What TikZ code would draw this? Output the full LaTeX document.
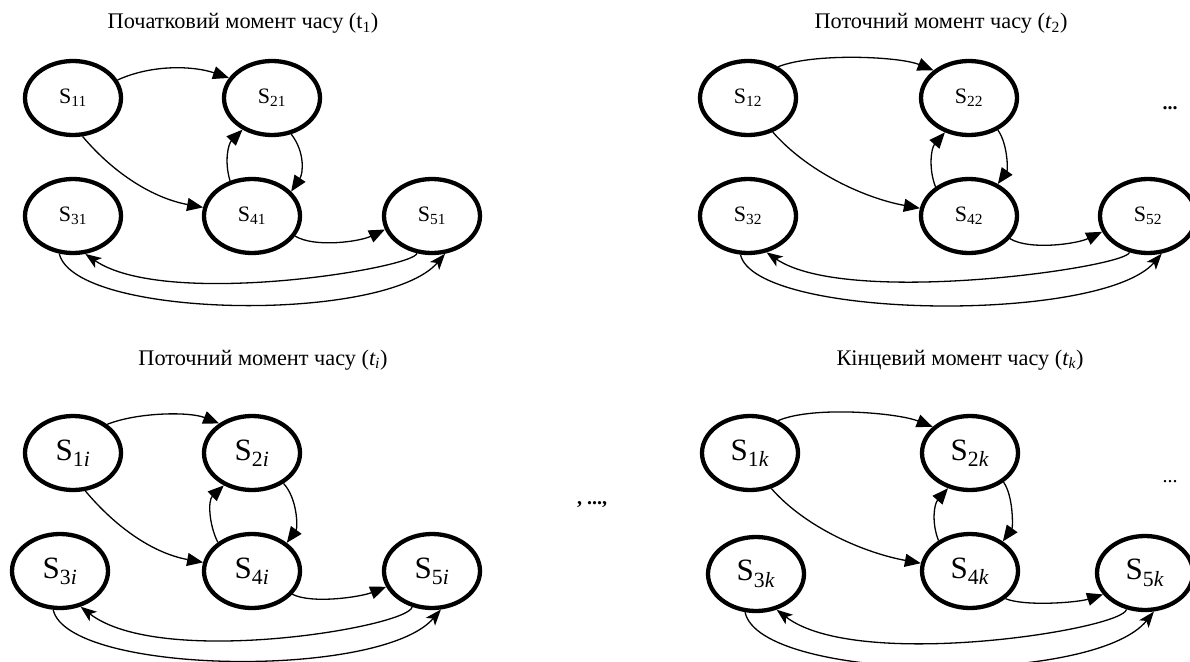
\documentclass[tikz,border=0pt]{standalone}
\usepackage{fontspec}
\setmainfont{Liberation Serif}
\usetikzlibrary{shapes.geometric,arrows.meta}
\begin{document}
\begin{tikzpicture}[x=1pt,y=1pt,
  state/.style={ellipse, draw, line width=4.3pt, minimum width=96pt, minimum height=74pt,
    inner sep=0pt, font=\fontsize{22}{26}\selectfont},
  bigstate/.style={state, font=\fontsize{31}{36}\selectfont},
  link/.style={line width=1.3pt, -{Triangle[length=16pt,width=13pt]}},
  backlink/.style={line width=1.3pt, -{Stealth[length=16pt,width=12pt,inset=4pt]}},
  caption/.style={font=\fontsize{22.3}{26}\selectfont, anchor=base},
  dots/.style={font=\fontsize{20}{24}\selectfont, anchor=base}]
\useasboundingbox (0,0) rectangle (1190,-661);

% ---- initial moment t1
\node[caption] (t1) at (243,-29) {Початковий момент часу (t\textsubscript{1})};
\node[state] (a1) at (73,-98)  {S\textsubscript{11}};
\node[state] (a2) at (272,-98) {S\textsubscript{21}};
\node[state] (a3) at (73,-216) {S\textsubscript{31}};
\node[state] (a4) at (252,-216) {S\textsubscript{41}};
\node[state] (a5) at (432,-216) {S\textsubscript{51}};
\draw[link] (a1.22) .. controls +(35,16) and +(-35,12) .. (a2.155);
\draw[link] (a1.-76) .. controls +(32,-38) and +(-49,9) .. (a4.170);
\draw[link] (a4.122) .. controls +(-6,20) and +(-14,-14) .. (a2.-133);
\draw[link] (a2.-62) .. controls +(14,-18) and +(12,18) .. (a4.32);
\draw[link] (a4.-25) .. controls +(20,-12) and +(-25,-12) .. (a5.-164);
\draw[backlink] (a5.-112) .. controls +(-3,-15) and +(80,-55) .. (a3.-72);
\draw[backlink] (a3.-110) .. controls +(15,-65) and +(-60,-70) .. (a5.-71);

% ---- current moment t2
\node[caption] (t2) at (941,-29) {Поточний момент часу (\textit{t}\textsubscript{2})};
\node[state] (b1) at (748,-98)  {S\textsubscript{12}};
\node[state] (b2) at (969,-98)  {S\textsubscript{22}};
\node[state] (b3) at (748,-216) {S\textsubscript{32}};
\node[state] (b4) at (969,-216) {S\textsubscript{42}};
\node[state] (b5) at (1148,-216) {S\textsubscript{52}};
\node[dots, font=\bfseries\fontsize{20}{24}\selectfont] (dotsA) at (1170,-109) {...};
\draw[link] (b1.46) .. controls +(35,14) and +(-35,14) .. (b2.142);
\draw[link] (b1.-54) .. controls +(35,-40) and +(-55,10) .. (b4.171);
\draw[link] (b4.139) .. controls +(-7,18) and +(-14,-16) .. (b2.-125);
\draw[link] (b2.-48) .. controls +(10,-14) and +(10,14) .. (b4.48);
\draw[link] (b4.-29) .. controls +(20,-12) and +(-25,-12) .. (b5.-161);
\draw[backlink] (b5.-117) .. controls +(-3,-15) and +(80,-55) .. (b3.-63);
\draw[backlink] (b3.-101) .. controls +(15,-65) and +(-60,-70) .. (b5.-70);

% ---- separator between the rows
\node[dots, font=\bfseries\fontsize{20}{24}\selectfont] (sep) at (592,-504) {, ...,};

% ---- current moment ti
\node[caption] (t3) at (263,-365) {Поточний момент часу (\textit{t\textsubscript{i}})};
\node[bigstate] (c1) at (73,-453)  {S\textsubscript{1\textit{i}}};
\node[bigstate] (c2) at (252,-453) {S\textsubscript{2\textit{i}}};
\node[bigstate] (c3) at (60,-571)  {S\textsubscript{3\textit{i}}};
\node[bigstate] (c4) at (252,-571) {S\textsubscript{4\textit{i}}};
\node[bigstate] (c5) at (432,-571) {S\textsubscript{5\textit{i}}};
\draw[link] (c1.40) .. controls +(30,12) and +(-30,12) .. (c2.138);
\draw[link] (c1.-72) .. controls +(32,-38) and +(-49,9) .. (c4.170);
\draw[link] (c4.140) .. controls +(-9,18) and +(-16,-15) .. (c2.-131);
\draw[link] (c2.-44) .. controls +(14,-15) and +(11,15) .. (c4.39);
\draw[link] (c4.-30) .. controls +(20,-10) and +(-25,-10) .. (c5.-161);
\draw[backlink] (c5.-119) .. controls +(-3,-20) and +(80,-62) .. (c3.-60);
\draw[backlink] (c3.-100) .. controls +(15,-65) and +(-60,-70) .. (c5.-77);

% ---- final moment tk
\node[caption] (t4) at (960,-365) {Кінцевий момент часу (\textit{t\textsubscript{k}})};
\node[bigstate] (k1) at (750,-453)  {S\textsubscript{1\textit{k}}};
\node[bigstate] (k2) at (970,-453)  {S\textsubscript{2\textit{k}}};
\node[bigstate] (k3) at (756,-574)  {S\textsubscript{3\textit{k}}};
\node[bigstate] (k4) at (970,-571)  {S\textsubscript{4\textit{k}}};
\node[bigstate] (k5) at (1145,-573) {S\textsubscript{5\textit{k}}};
\node[dots] (dotsB) at (1170,-482) {...};
\draw[link] (k1.49) .. controls +(35,15) and +(-35,14) .. (k2.145);
\draw[link] (k1.-59) .. controls +(35,-40) and +(-55,10) .. (k4.171);
\draw[link] (k4.136) .. controls +(-7,18) and +(-14,-16) .. (k2.-122);
\draw[link] (k2.-41) .. controls +(10,-14) and +(10,14) .. (k4.42);
\draw[link] (k4.-38) .. controls +(20,-8) and +(-25,-8) .. (k5.-153);
\draw[backlink] (k5.-117) .. controls +(-3,-20) and +(80,-62) .. (k3.-60);
\draw[backlink] (k3.-106) .. controls +(15,-70) and +(-60,-75) .. (k5.-77);
\end{tikzpicture}
\end{document}
